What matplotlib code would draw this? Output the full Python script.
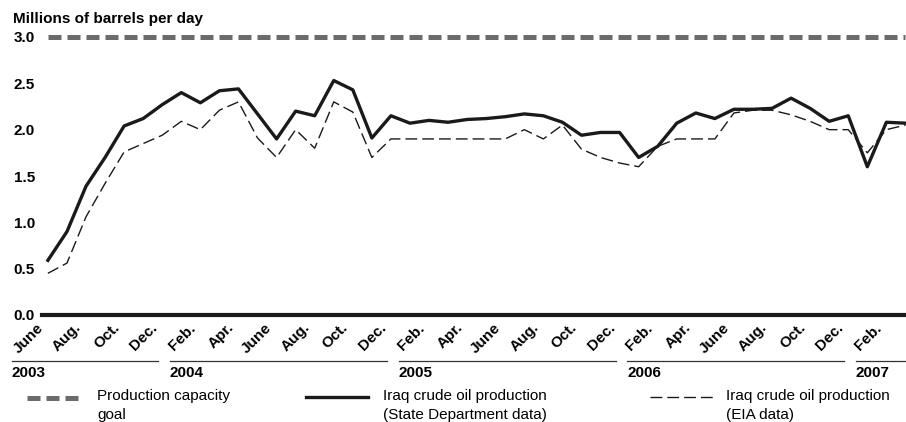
import matplotlib
matplotlib.use("Agg")
import matplotlib.pyplot as plt
from matplotlib.lines import Line2D
from matplotlib.transforms import ScaledTranslation, blended_transform_factory
import numpy as np
import pandas as pd

plt.rcParams['font.family'] = ['Liberation Sans', 'DejaVu Sans']

# monthly data, June 2003 - March 2007 (millions of barrels per day)
months = pd.period_range('2003-06', '2007-03', freq='M')
state_dept = [0.59, 0.90, 1.39, 1.70, 2.04, 2.12, 2.27, 2.40, 2.29, 2.42,
              2.44, 2.17, 1.90, 2.20, 2.15, 2.53, 2.43, 1.91, 2.15, 2.07,
              2.10, 2.08, 2.11, 2.12, 2.14, 2.17, 2.15, 2.08, 1.94, 1.97,
              1.97, 1.70, 1.82, 2.07, 2.18, 2.12, 2.22, 2.22, 2.23, 2.34,
              2.23, 2.09, 2.15, 1.60, 2.08, 2.07]
eia = [0.45, 0.56, 1.06, 1.42, 1.76, 1.85, 1.94, 2.09, 2.00, 2.21,
       2.30, 1.91, 1.70, 2.00, 1.80, 2.30, 2.19, 1.70, 1.90, 1.90,
       1.90, 1.90, 1.90, 1.90, 1.90, 2.00, 1.90, 2.05, 1.79, 1.70,
       1.64, 1.60, 1.82, 1.90, 1.90, 1.90, 2.18, 2.21, 2.21, 2.16,
       2.09, 2.00, 2.00, 1.75, 2.00, 2.05]
goal = 3.0

tick_labels = ["June", "Aug.", "Oct.", "Dec.",
               "Feb.", "Apr.", "June", "Aug.", "Oct.", "Dec.",
               "Feb.", "Apr.", "June", "Aug.", "Oct.", "Dec.",
               "Feb.", "Apr.", "June", "Aug.", "Oct.", "Dec.",
               "Feb."]
years = [2003, 2004, 2005, 2006, 2007]

W, H = 906, 422


def px(x, y):
    return x / W, 1 - y / H


fig = plt.figure(figsize=(W / 100, H / 100), dpi=100)
ax = fig.add_axes([42 / W, 1 - 315 / H, (W - 42) / W, (315 - 37) / H])

x = np.arange(len(months))
dark = '#1a1a1a'
grey = '#6b6b6b'

ax.plot([x[0], x[-1]], [goal, goal], color=grey, lw=3.6, dashes=(2.6, 1.2),
        dash_capstyle='butt', clip_on=False)
ax.plot(x, eia, color=dark, lw=1.0, dashes=(8.5, 3.6), zorder=3)
ax.plot(x, state_dept, color=dark, lw=2.4, zorder=4)

ax.set_xlim(-0.31, 45.03)
ax.set_ylim(0, 3.0)
for s in ['top', 'right', 'left']:
    ax.spines[s].set_visible(False)
ax.spines['bottom'].set_linewidth(3)
ax.spines['bottom'].set_color(dark)

ax.set_yticks(np.arange(0, 3.01, 0.5))
ax.set_yticklabels(['%.1f' % v for v in np.arange(0, 3.01, 0.5)],
                   fontweight='bold', fontsize=11)
ax.tick_params(axis='y', length=0, pad=5)

ax.set_xticks(x[::2])
ax.set_xticklabels(tick_labels, rotation=45, ha='right', va='top',
                   fontweight='bold', fontsize=11)
ax.tick_params(axis='x', length=0, pad=4)
shift = ScaledTranslation(-2 / 100, 0, fig.dpi_scale_trans)
for lab in ax.get_xticklabels():
    lab.set_transform(lab.get_transform() + shift)

# year brackets under the month labels
tr = blended_transform_factory(ax.transData, fig.transFigure)
for yr in years:
    idx = x[months.year == yr]
    start = idx.min() - 0.6 if yr != years[0] else -1.9
    end = idx.max() - 0.2 if yr != years[-1] else 45.03
    ax.add_line(Line2D([start, end], [1 - 361 / H] * 2, transform=tr,
                       color='#333333', lw=0.9, clip_on=False))
    ax.text(start, 1 - 366 / H, str(yr), transform=tr, ha='left', va='top',
            fontweight='bold', fontsize=11)

fig.text(*px(13, 12), 'Millions of barrels per day', ha='left', va='top',
         fontweight='bold', fontsize=11)

# legend
fig.add_artist(Line2D([27 / W, 82 / W], [px(0, 398)[1]] * 2, color=grey,
                      lw=3.6, dashes=(2.6, 1.2)))
fig.add_artist(Line2D([306 / W, 368 / W], [px(0, 397)[1]] * 2, color=dark,
                      lw=2.4))
fig.add_artist(Line2D([650 / W, 713 / W], [px(0, 397)[1]] * 2, color=dark,
                      lw=1.0, dashes=(8.5, 3.6)))
fig.text(*px(97, 389), 'Production capacity\ngoal', ha='left', va='top',
         fontsize=11, linespacing=1.45)
fig.text(*px(383, 389), 'Iraq crude oil production\n(State Department data)',
         ha='left', va='top', fontsize=11, linespacing=1.45)
fig.text(*px(726, 389), 'Iraq crude oil production\n(EIA data)',
         ha='left', va='top', fontsize=11, linespacing=1.45)

fig.savefig('out.png', dpi=100)
